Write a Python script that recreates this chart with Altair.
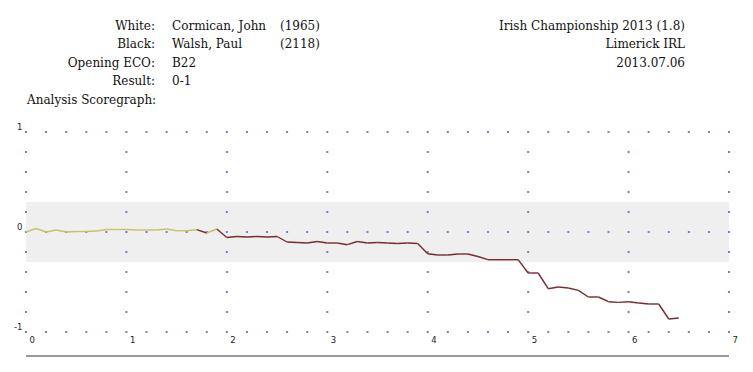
import altair as alt
import pandas as pd

# ---- data ----
scores = [0.0, 0.035, 0.0, 0.02, 0.0, 0.005, 0.005, 0.01, 0.025, 0.025, 0.025, 0.02,
          0.02, 0.02, 0.03, 0.013, 0.013, 0.023, -0.01, 0.03,
          -0.055, -0.045, -0.05, -0.045, -0.05, -0.045,
          -0.10, -0.105, -0.11, -0.095, -0.11, -0.11, -0.127, -0.095, -0.11, -0.105, -0.11, -0.115, -0.11, -0.115,
          -0.217, -0.23, -0.23, -0.22, -0.22, -0.245,
          -0.277, -0.277, -0.277, -0.277, -0.41, -0.41, -0.567, -0.55, -0.56, -0.584,
          -0.65, -0.65, -0.697, -0.704, -0.697, -0.71, -0.72, -0.72, -0.87, -0.86]
x_step = 0.1

x_ticks = [0, 1, 2, 3, 4, 5, 6, 7]
y_ticks = [-1, 0, 1]
y_minor = [0.8, 0.6, 0.4, 0.2, -0.2, -0.4, -0.6, -0.8]
x_minor_step = 0.2
band = [-0.3, 0.3]

head_labels = ["White:", "Black:", "Opening ECO:", "Result:"]
head_values = ["Cormican, John", "Walsh, Paul", "B22", "0-1"]
head_ratings = ["(1965)", "(2118)", "", ""]
event_lines = ["Irish Championship 2013 (1.8)", "Limerick IRL", "2013.07.06"]
section_title = "Analysis Scoregraph:"

YELLOW = "#c9c165"
RED = "#7a2b2b"
DOT = "#6f6fc8"
SERIF = "DejaVu Serif"

# ---- tables ----
segs = []
for i in range(1, len(scores)):
    segs.append({
        "x": (i - 1) * x_step, "y": scores[i - 1],
        "x2": i * x_step, "y2": scores[i],
        "side": "w" if scores[i] >= 0 else "b",
    })
seg_df = pd.DataFrame(segs)

dots = []
n_minor = int(round((x_ticks[-1] - x_ticks[0]) / x_minor_step))
for yv in y_ticks:
    for k in range(n_minor + 1):
        dots.append({"x": round(k * x_minor_step, 3), "y": yv})
for yv in y_minor:
    for xv in x_ticks:
        dots.append({"x": xv, "y": yv})
dot_df = pd.DataFrame(dots)

band_df = pd.DataFrame([{"x": x_ticks[0], "x2": x_ticks[-1], "y": band[0], "y2": band[1]}])

xs = alt.Scale(domain=[x_ticks[0], x_ticks[-1]], nice=False, zero=False)
ys = alt.Scale(domain=[-1, 1], nice=False, zero=False)

x_axis = alt.Axis(values=x_ticks, labelAlign="left", labelOffset=3, labelPadding=3,
                  labelBaseline="top", domain=False, ticks=False, grid=False,
                  title=None, labelFont="DejaVu Sans", labelFontSize=8.5,
                  labelColor="#222", labelExpr="toString(datum.value)",
                  labelOverlap=False, labelBound=False, labelFlush=False)
y_axis = alt.Axis(values=y_ticks, labelAlign="right", labelPadding=4, labelOffset=-2.5,
                  labelBaseline="alphabetic", domain=False, ticks=False, grid=False,
                  title=None, labelFont="DejaVu Sans", labelFontSize=8.5,
                  labelColor="#222", labelExpr="toString(datum.value)",
                  labelOverlap=False, labelBound=False, labelFlush=False)

band_layer = alt.Chart(band_df).mark_rect(color="#efefef").encode(
    x=alt.X("x:Q", scale=xs, axis=x_axis), x2="x2",
    y=alt.Y("y:Q", scale=ys, axis=y_axis), y2="y2")

dot_layer = alt.Chart(dot_df).mark_square(size=4, color=DOT, opacity=0.9).encode(
    x=alt.X("x:Q", scale=xs), y=alt.Y("y:Q", scale=ys))

line_layer = alt.Chart(seg_df).mark_rule(strokeWidth=1.4).encode(
    x=alt.X("x:Q", scale=xs), y=alt.Y("y:Q", scale=ys), x2="x2", y2="y2",
    color=alt.Color("side:N", scale=alt.Scale(domain=["w", "b"], range=[YELLOW, RED]), legend=None),
)

base_line = alt.Chart(pd.DataFrame([{"a": 0}])).mark_rule(color="#999999", strokeWidth=2).encode(
    x=alt.value(0), x2=alt.value(703), y=alt.value(224))

row_y = [-106, -88, -69, -51]
hdr = pd.DataFrame({"lab": head_labels, "val": head_values, "rat": head_ratings, "py": row_y})
txt = dict(baseline="middle", font=SERIF, fontSize=12, color="#111")
lab_layer = alt.Chart(hdr).mark_text(align="right", **txt).encode(
    text="lab:N", x=alt.value(129), y=alt.Y("py:Q", scale=None))
val_layer = alt.Chart(hdr).mark_text(align="left", **txt).encode(
    text="val:N", x=alt.value(146), y=alt.Y("py:Q", scale=None))
rat_layer = alt.Chart(hdr).mark_text(align="left", **txt).encode(
    text="rat:N", x=alt.value(254), y=alt.Y("py:Q", scale=None))
ev = pd.DataFrame({"t": event_lines, "py": row_y[:3]})
ev_layer = alt.Chart(ev).mark_text(align="right", **txt).encode(
    text="t:N", x=alt.value(659), y=alt.Y("py:Q", scale=None))
sec_layer = alt.Chart(pd.DataFrame({"t": [section_title]})).mark_text(align="left", **txt).encode(
    text="t:N", x=alt.value(1), y=alt.value(-32))

chart = alt.layer(band_layer, dot_layer, line_layer, base_line,
                  lab_layer, val_layer, rat_layer, ev_layer, sec_layer).properties(
    width=703, height=200,
    autosize=alt.AutoSizeParams(type="none"),
    padding={"left": 18, "top": 124, "right": 16, "bottom": 32},
    background="white",
).configure_view(stroke=None)

chart.save("out.html", embed_options={"renderer": "svg", "actions": False})
